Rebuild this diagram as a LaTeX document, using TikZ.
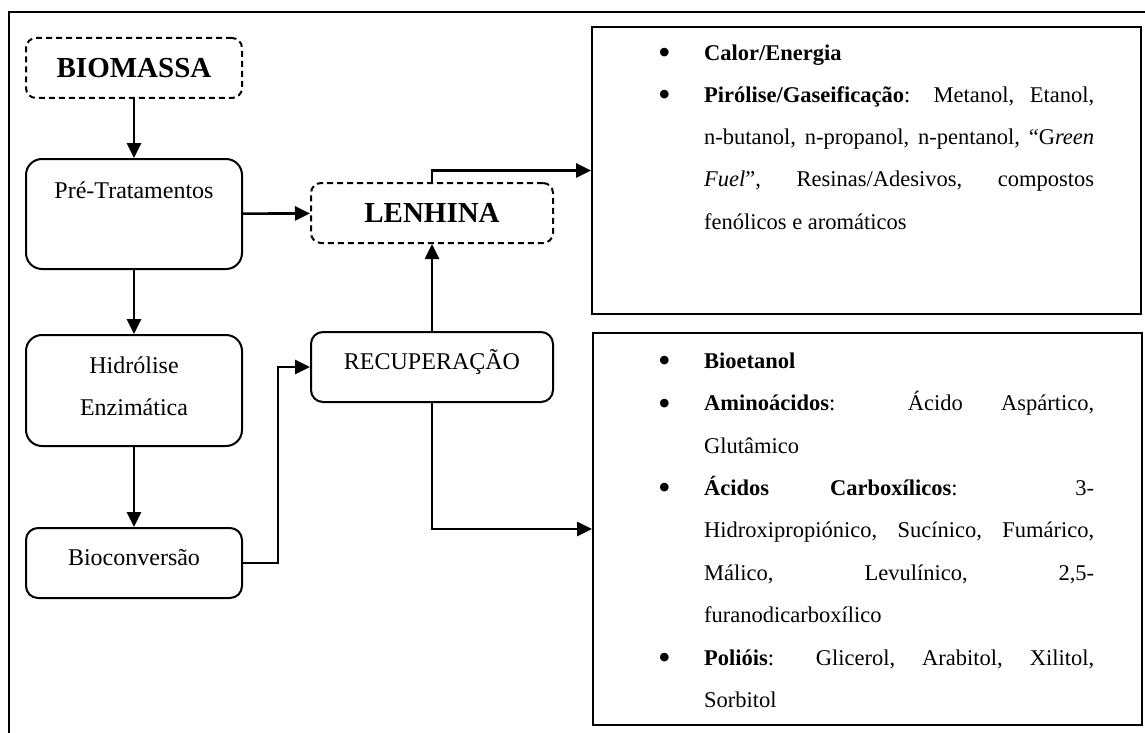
\documentclass[tikz,border=0pt]{standalone}
\usepackage{fontspec}
\setmainfont{Liberation Serif}
\usetikzlibrary{arrows.meta}
\newcommand{\linha}[1]{\makebox[390pt][s]{#1}}
\newcommand{\marca}{\makebox[46pt][l]{\raisebox{-4.5pt}{\fontsize{36}{36}\selectfont\textbullet}}}
\newcommand{\recuo}{\makebox[46pt][l]{}}
\begin{document}
\begin{tikzpicture}[x=1pt,y=-1pt,
  etapa/.style={draw,line width=2pt,rounded corners=14pt,minimum width=216pt,
    font=\fontsize{24}{42}\selectfont,align=center},
  tracejado/.style={draw,line width=2pt,dash pattern=on 6pt off 4pt,rounded corners=10pt,
    minimum height=60pt,font=\fontsize{29}{34}\selectfont\bfseries},
  caixa/.style={draw,line width=2pt,minimum width=549pt},
  lista/.style={anchor=north west,inner sep=0pt,align=left},
  seta/.style={line width=2.6pt,-{Triangle[length=15pt,width=14pt]}}]
  \useasboundingbox (0,0) rectangle (1145,733);
  \draw[line width=2pt] (9,733) -- (9,12) -- (1145,12);

  % coluna da esquerda
  \node[tracejado,minimum width=216pt] (biomassa) at (134,68) {BIOMASSA};
  \node[etapa,minimum height=110pt,rounded corners=16pt,text height=16.4pt,
    text depth=48.4pt] (pre) at (134,214) {Pré-Tratamentos};
  \node[etapa,minimum height=111pt,rounded corners=16pt] (hidrolise) at (134,390.5)
    {Hidrólise\\Enzimática\rule[-9.5pt]{0pt}{9.5pt}};
  \node[etapa,minimum height=70pt,rounded corners=12pt,text height=16.4pt,
    text depth=12.4pt] (bioconv) at (134,563) {Bioconversão};

  % coluna do meio
  \node[tracejado,minimum width=242pt] (lenhina) at (432,213) {LENHINA};
  \node[etapa,minimum width=242pt,minimum height=70pt,rounded corners=12pt,
    text height=16.4pt,text depth=12.4pt] (recup) at (432,367) {RECUPERAÇÃO};

  % caixas de produtos
  \node[caixa,minimum height=287pt] (usos) at (866.5,170.5) {};
  \node[caixa,minimum height=392pt] (produtos) at (867.5,529) {};
  \node[lista,font=\fontsize{22.5}{42.2}\selectfont] (textousos) at (658,44) {%
    \marca\vrule height16pt width0pt\textbf{Calor/Energia}\\
    \marca\linha{\textbf{Pirólise/Gaseificação}: Metanol, Etanol,}\\
    \recuo\linha{n-butanol, n-propanol, n-pentanol, “G\textit{reen}}\\
    \recuo\linha{\textit{Fuel}”, Resinas/Adesivos, compostos}\\
    \recuo fenólicos e aromáticos};
  \node[lista,font=\fontsize{22.5}{42.4}\selectfont] (textoprod) at (658,352) {%
    \marca\vrule height16pt width0pt\textbf{Bioetanol}\\
    \marca\linha{\textbf{Aminoácidos}: Ácido Aspártico,}\\
    \recuo Glutâmico\\
    \marca\linha{\textbf{Ácidos Carboxílicos}: 3-}\\
    \recuo\linha{Hidroxipropiónico, Sucínico, Fumárico,}\\
    \recuo\linha{Málico, Levulínico, 2,5-}\\
    \recuo furanodicarboxílico\\
    \marca\linha{\textbf{Polióis}: Glicerol, Arabitol, Xilitol,}\\
    \recuo Sorbitol};

  \draw[seta] (biomassa) -- (pre);
  \draw[seta] (pre) -- (hidrolise);
  \draw[seta] (hidrolise) -- (bioconv);
  \draw[seta] (pre) -- (lenhina);
  \draw[seta] (recup) -- (lenhina);
  \draw[seta] (lenhina.north) |- (usos.west);
  \draw[seta] (bioconv.east) -- ++(35,0) |- (recup.west);
  \draw[seta] (recup.south) |- (produtos.west);
\end{tikzpicture}
\end{document}
